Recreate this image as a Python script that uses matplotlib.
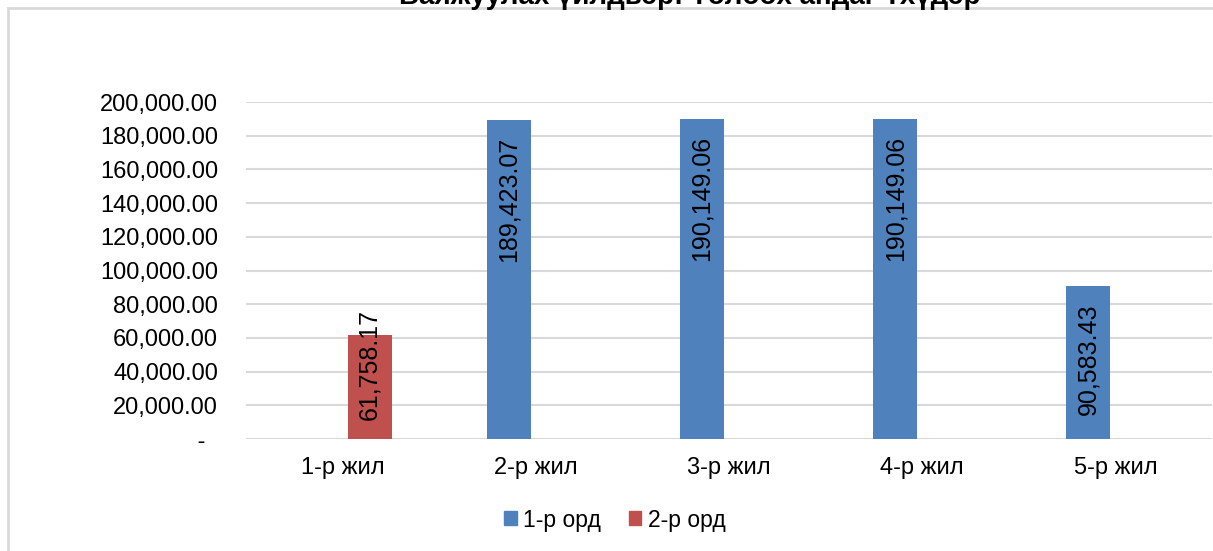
import numpy as np
import matplotlib
matplotlib.use("Agg")
import matplotlib.pyplot as plt
from matplotlib.ticker import FuncFormatter, MultipleLocator
from matplotlib.patches import Rectangle

plt.rcParams['font.family'] = ['Liberation Sans', 'DejaVu Sans']

# Data
title = "Баяжуулах үйлдвэр: Төлөөх андаг Тхүдэр"
years = ["1-р жил", "2-р жил", "3-р жил", "4-р жил", "5-р жил"]
series_names = ["1-р орд", "2-р орд"]
ord1 = [0, 189423.07, 190149.06, 190149.06, 90583.43]
ord2 = [61758.17, 0, 0, 0, 0]
colors = ["#4f81bd", "#c0504d"]

W, H = 1213, 551
fig = plt.figure(figsize=(W / 100, H / 100), dpi=100)
fig.patch.set_facecolor("white")

# chart area border (only top and left edges fall inside the image)
fig.patches.append(Rectangle((8 / W, -0.1), 1.2, 1 - 8 / H + 0.1, transform=fig.transFigure,
                             fill=False, edgecolor="#d9d9d9", linewidth=2, zorder=0))

# title sits partly above the top edge of the image
fig.text(690 / W, 1 - 4 / H, title, ha="center", va="baseline", fontsize=20,
         fontweight="bold", color="#000000")

ax = fig.add_axes([246 / W, 112 / H, (1212 - 246) / W, (439 - 102) / H])
x = np.arange(len(years))
width = 0.227
offsets = [-0.14, 0.14]

ax.set_ylim(0, 200000)
ax.set_xlim(-0.5, len(years) - 0.5)

for vals, off, col in zip([ord1, ord2], offsets, colors):
    bars = ax.bar(x + off, vals, width, color=col, zorder=3)
    for b, v in zip(bars, vals):
        if v == 0:
            continue
        label = f"{v:,.2f}"
        cx = b.get_x() + b.get_width() / 2
        bar_px = v / 200000 * (439 - 102)
        if bar_px > 150:
            ax.annotate(label, (cx, v), xytext=(0, -17), textcoords="offset pixels",
                        rotation=90, ha="center", va="top", fontsize=18, zorder=4)
        else:
            ax.annotate(label, (cx, 0), xytext=(0, 19), textcoords="offset pixels",
                        rotation=90, ha="center", va="bottom", fontsize=18, zorder=4)

ax.yaxis.set_major_locator(MultipleLocator(20000))
ax.yaxis.set_major_formatter(FuncFormatter(lambda v, p: " -  " if v == 0 else f"{v:,.2f}"))
ax.grid(axis="y", color="#d9d9d9", linewidth=1.5, zorder=0)
ax.set_axisbelow(True)
ax.set_xticks(x)
ax.set_xticklabels(years)
ax.tick_params(axis="both", length=0, labelsize=17, colors="#000000")
ax.tick_params(axis="y", pad=20)
ax.tick_params(axis="x", pad=13)
for s in ax.spines.values():
    s.set_visible(False)

handles = [Rectangle((0, 0), 1, 1, color=c) for c in colors]
fig.legend(handles, series_names, loc="center", bbox_to_anchor=(615 / W, 1 - 520 / H),
           ncol=2, frameon=False, fontsize=16.5, handlelength=0.55, handleheight=0.55,
           handletextpad=0.3, columnspacing=1.2)

fig.savefig("out.png", dpi=100)
